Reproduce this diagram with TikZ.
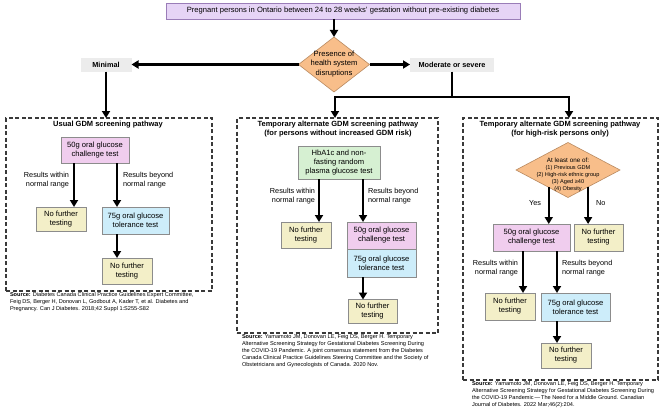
\documentclass[tikz,border=0pt]{standalone}
\usepackage{fontspec}
\setmainfont{Liberation Sans}
\usetikzlibrary{arrows.meta,shapes.geometric}
\definecolor{lav}{HTML}{E6D4F6}
\definecolor{lavb}{HTML}{9A7DB8}
\definecolor{orng}{HTML}{F8BE8A}
\definecolor{orngb}{HTML}{B98A60}
\definecolor{pinkc}{HTML}{F0CDEE}
\definecolor{yelc}{HTML}{F3EFC8}
\definecolor{bluec}{HTML}{CDEDFA}
\definecolor{greenc}{HTML}{D6F0D2}
\definecolor{greyc}{HTML}{ECECEC}
\definecolor{boxb}{HTML}{8C8C8C}
\definecolor{dashc}{HTML}{3A3A3A}
\begin{document}
\begin{tikzpicture}[x=1pt,y=-1pt,
  every node/.style={inner sep=0pt, outer sep=0pt},
  box/.style={draw=boxb, line width=0.6pt, align=center, font=\fontsize{7.6}{9}\selectfont},
  pinkbox/.style={box, fill=pinkc},
  yelbox/.style={box, fill=yelc},
  bluebox/.style={box, fill=bluec},
  greenbox/.style={box, fill=greenc},
  greybox/.style={fill=greyc, font=\bfseries\fontsize{7.3}{9}\selectfont},
  arr/.style={line width=2.4pt, -{Triangle[width=8pt,length=7pt]}},
  darr/.style={line width=2.4pt, {Triangle[width=8pt,length=7pt]}-{Triangle[width=8pt,length=7pt]}},
  ln/.style={line width=2.4pt},
  panel/.style={draw=dashc, line width=1.1pt, dash pattern=on 4pt off 2.5pt},
  lbl/.style={font=\fontsize{7.3}{9}\selectfont},
  src/.style={font=\fontsize{5.6}{7}\selectfont, align=left, anchor=north west},
  ttl/.style={font=\bfseries\fontsize{7.5}{8.5}\selectfont, align=center}]
\useasboundingbox[fill=white] (0,0) rectangle (671,412);

% top
\node[draw=lavb, fill=lav, line width=0.7pt, minimum width=354pt, minimum height=16pt, font=\fontsize{7.6}{9}\selectfont] (top) at (343,11) {Pregnant persons in Ontario between 24 to 28 weeks' gestation without pre-existing diabetes};
\node[diamond, draw=orngb, fill=orng, line width=0.6pt, minimum width=71pt, minimum height=55pt] (dia) at (334,64.5) {};
\node[align=center, font=\fontsize{7.6}{9.5}\selectfont] (diat) at (334,64) {Presence of\\health system\\disruptions};
\node[greybox, minimum width=51pt, minimum height=14pt] (mini) at (106,64.5) {Minimal};
\node[greybox, minimum width=84pt, minimum height=14pt] (mod) at (452,64.5) {Moderate or severe};
\draw[arr] (top.south -| dia.north) -- (dia.north);
\draw[arr] (dia.west) -- (mini.east);
\draw[arr] (dia.east) -- (mod.west);

% panels
\node[panel, minimum width=206pt, minimum height=173pt] (p1) at (109,204.5) {};
\node[panel, minimum width=201pt, minimum height=215pt] (p2) at (337.5,225.5) {};
\node[panel, minimum width=195pt, minimum height=262pt] (p3) at (560.5,249) {};

\coordinate (jm) at (452,97);
\coordinate (jl) at (335,97);
\coordinate (jr) at (569,97);
\draw[arr] (mini.south) -- (mini.south |- p1.north);
\draw[ln] (mod.south) -- (jm);
\draw[darr] (jl |- p2.north) -- (jl) -- (jr) -- (jr |- p3.north);

% panel 1
\node[ttl] (t1) at (108,125) {Usual GDM screening pathway};
\node[pinkbox, minimum width=68pt, minimum height=26pt] (c1a) at (95,150) {50g oral glucose\\challenge test};
\node[yelbox, minimum width=50pt, minimum height=24pt] (c1b) at (61,219) {No further\\testing};
\node[bluebox, minimum width=67pt, minimum height=27pt] (c1c) at (135.5,220.5) {75g oral glucose\\tolerance test};
\node[yelbox, minimum width=50pt, minimum height=26pt] (c1d) at (127,271) {No further\\testing};
\coordinate (x1l) at (74,0);
\coordinate (x1r) at (117,0);
\draw[arr] (c1a.south -| x1l) -- (c1b.north -| x1l);
\draw[arr] (c1a.south -| x1r) -- (c1c.north -| x1r);
\draw[arr] (c1c.south -| x1r) -- (c1d.north -| x1r);
\node[lbl, align=right, anchor=east] (l1a) at (69,180.5) {Results within\\normal range};
\node[lbl, align=left, anchor=west] (l1b) at (123,180.5) {Results beyond\\normal range};
\node[src] (s1) at (10,292.5) {\textbf{Source:} Diabetes Canada Clinical Practice Guidelines Expert Committee,\\Feig DS, Berger H, Donovan L, Godbout A, Kader T, et al. Diabetes and\\Pregnancy. Can J Diabetes. 2018;42 Suppl 1:S255-S82};

% panel 2
\node[ttl] (t2) at (338,129) {Temporary alternate GDM screening pathway\\(for persons without increased GDM risk)};
\node[greenbox, minimum width=82pt, minimum height=33pt] (c2a) at (339,162.5) {HbA1c and non-\\fasting random\\plasma glucose test};
\node[yelbox, minimum width=50pt, minimum height=26pt] (c2b) at (306,235) {No further\\testing};
\node[pinkbox, minimum width=69pt, minimum height=27pt] (c2c) at (381.5,235.5) {50g oral glucose\\challenge test};
\node[bluebox, minimum width=69pt, minimum height=28pt] (c2d) at (381.5,263) {75g oral glucose\\tolerance test};
\node[yelbox, minimum width=49pt, minimum height=24pt] (c2e) at (372.5,311.5) {No further\\testing};
\coordinate (x2l) at (319,0);
\coordinate (x2r) at (363,0);
\draw[arr] (c2a.south -| x2l) -- (c2b.north -| x2l);
\draw[arr] (c2a.south -| x2r) -- (c2c.north -| x2r);
\draw[arr] (c2d.south -| x2r) -- (c2e.north -| x2r);
\node[lbl, align=right, anchor=east] (l2a) at (315,196.5) {Results within\\normal range};
\node[lbl, align=left, anchor=west] (l2b) at (368,196.5) {Results beyond\\normal range};
\node[src] (s2) at (242,334.5) {\textbf{Source:} Yamamoto JM, Donovan LE, Feig DS, Berger H. Temporary\\Alternative Screening Strategy for Gestational Diabetes Screening During\\the COVID-19 Pandemic. A joint consensus statement from the Diabetes\\Canada Clinical Practice Guidelines Steering Committee and the Society of\\Obstetricians and Gynecologists of Canada. 2020 Nov.};

% panel 3
\node[ttl] (t3) at (560,129) {Temporary alternate GDM screening pathway\\(for high-risk persons only)};
\node[diamond, draw=orngb, fill=orng, line width=0.6pt, minimum width=104pt, minimum height=55pt] (d3) at (568,170) {};
\node[align=center, font=\fontsize{5.6}{7}\selectfont] (d3t) at (568,174.5) {{\fontsize{6.3}{7}\selectfont At least one of:}\\(1) Previous GDM\\(2) High-risk ethnic group\\(3) Aged ≥40\\(4) Obesity};
\node[pinkbox, minimum width=77pt, minimum height=27pt] (c3a) at (531.5,237.5) {50g oral glucose\\challenge test};
\node[yelbox, minimum width=49pt, minimum height=27pt] (c3b) at (598.5,237.5) {No further\\testing};
\node[yelbox, minimum width=50pt, minimum height=27pt] (c3c) at (510,306.5) {No further\\testing};
\node[bluebox, minimum width=69pt, minimum height=28pt] (c3d) at (575.5,307) {75g oral glucose\\tolerance test};
\node[yelbox, minimum width=50pt, minimum height=25pt] (c3e) at (566,355.5) {No further\\testing};
\draw[arr] (d3.222) -- (d3.222 |- c3a.north);
\draw[arr] (d3.320) -- (d3.320 |- c3b.north);
\coordinate (x3l) at (523,0);
\coordinate (x3r) at (557,0);
\draw[arr] (c3a.south -| x3l) -- (c3c.north -| x3l);
\draw[arr] (c3a.south -| x3r) -- (c3d.north -| x3r);
\draw[arr] (c3d.south -| x3r) -- (c3e.north -| x3r);
\node[lbl, anchor=east] (yes) at (541,203) {Yes};
\node[lbl, anchor=west] (no) at (596,203) {No};
\node[lbl, align=right, anchor=east] (l3a) at (518,268.5) {Results within\\normal range};
\node[lbl, align=left, anchor=west] (l3b) at (562,268.5) {Results beyond\\normal range};
\node[src] (s3) at (472,381.5) {\textbf{Source:} Yamamoto JM, Donovan LE, Feig DS, Berger H. Temporary\\Alternative Screening Strategy for Gestational Diabetes Screening During\\the COVID-19 Pandemic\,—\,The Need for a Middle Ground. Canadian\\Journal of Diabetes. 2022 Mar;46(2):204.};
\end{tikzpicture}
\end{document}
